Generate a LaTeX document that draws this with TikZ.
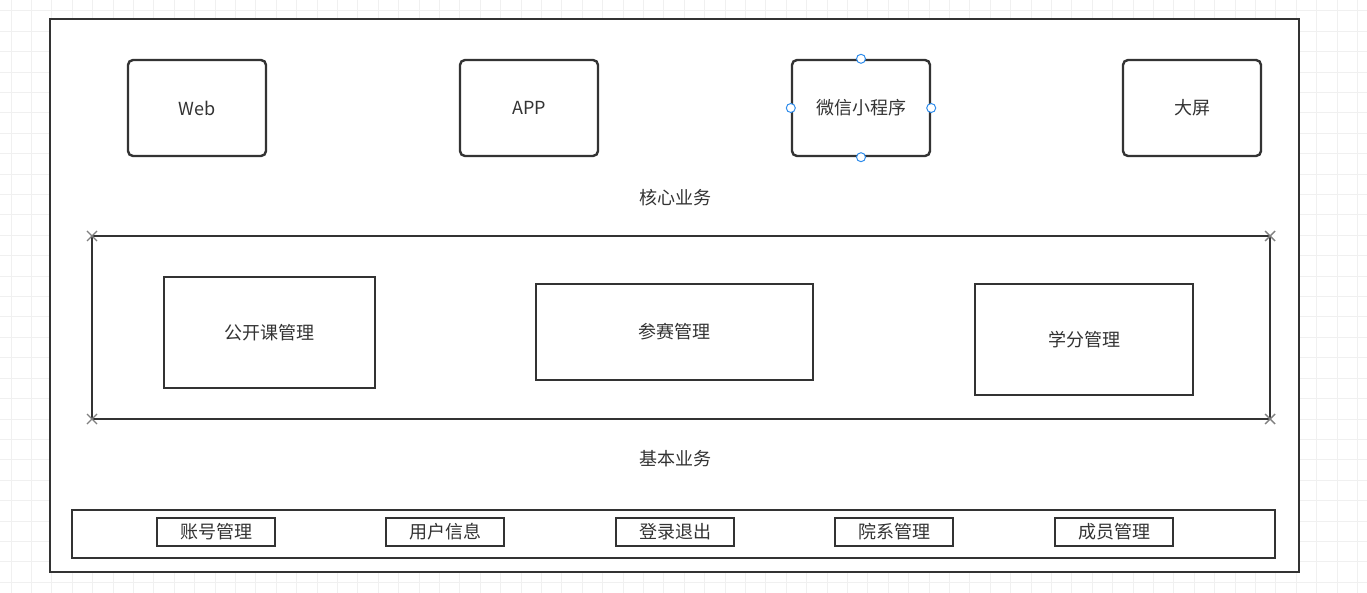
\documentclass[tikz,border=0pt]{standalone}
\usepackage{fontspec}
\setmainfont{Noto Sans CJK SC}
\usetikzlibrary{positioning}
\definecolor{ink}{HTML}{333333}
\definecolor{gridc}{HTML}{F0F0F0}
\definecolor{handle}{HTML}{2F8CEB}
\tikzset{
  endbox/.style={draw=ink, line width=2.4pt, rounded corners=5pt, minimum width=138pt, minimum height=96pt, text=ink, font=\fontsize{18}{20}\selectfont},
  corebox/.style={draw=ink, line width=2.2pt, text=ink, font=\fontsize{18}{20}\selectfont},
  basebox/.style={draw=ink, line width=2.2pt, minimum width=118pt, minimum height=28pt, inner sep=0pt, text=ink, font=\fontsize{18}{20}\selectfont},
  layername/.style={text=ink, font=\fontsize{18}{20}\selectfont},
  xmark/.style={draw=gray, line width=1.4pt},
}
\begin{document}
\begin{tikzpicture}[x=1pt,y=-1pt]
        \useasboundingbox (0,0) rectangle (1367,593);
        % background grid
        \foreach \k in {0,...,66}
            \draw[gridc, line width=1pt] (11+20.4*\k,0) -- (11+20.4*\k,593);
        \foreach \k in {0,...,28}
            \draw[gridc, line width=1pt] (0,11+20.4*\k) -- (1367,11+20.4*\k);
        \filldraw[fill=white, draw=ink, line width=2.6pt] (50,19) rectangle (1299,572);

        % clients
        \node[endbox] (web) at (197,108) {Web};
        \node[endbox] (app) at (529,108) {APP};
        \node[endbox] (wx) at (861,108) {微信小程序};
        \node[endbox] (screen) at (1192,108) {大屏};
        \foreach \a in {north,south,east,west}
            \filldraw[fill=white, draw=handle, line width=1pt] (wx.\a) circle (4.5pt);

        \node[layername] (core) at (675,198) {核心业务};
        \draw[draw=ink, line width=2.6pt] (92,236) rectangle (1270,419);
        \foreach \p in {(92,236),(1270,236),(92,419),(1270,419)}
            \draw[xmark] \p +(-5,-5) -- +(5,5) \p +(-5,5) -- +(5,-5);
        \node[corebox, minimum width=211pt, minimum height=111pt] (open) at (269.5,332.5) {公开课管理};
        \node[corebox, minimum width=277pt, minimum height=96pt] (contest) at (674.5,332) {参赛管理};
        \node[corebox, minimum width=218pt, minimum height=111pt] (credit) at (1084,339.5) {学分管理};

        \node[layername] (base) at (675,459) {基本业务};
        \draw[draw=ink, line width=2.6pt] (72,510) rectangle (1275,558);
        \node[basebox] (account) at (216,532) {账号管理};
        \node[basebox] (user) at (445,532) {用户信息};
        \node[basebox] (login) at (675,532) {登录退出};
        \node[basebox] (dept) at (894,532) {院系管理};
        \node[basebox] (member) at (1114,532) {成员管理};
\end{tikzpicture}
\end{document}
